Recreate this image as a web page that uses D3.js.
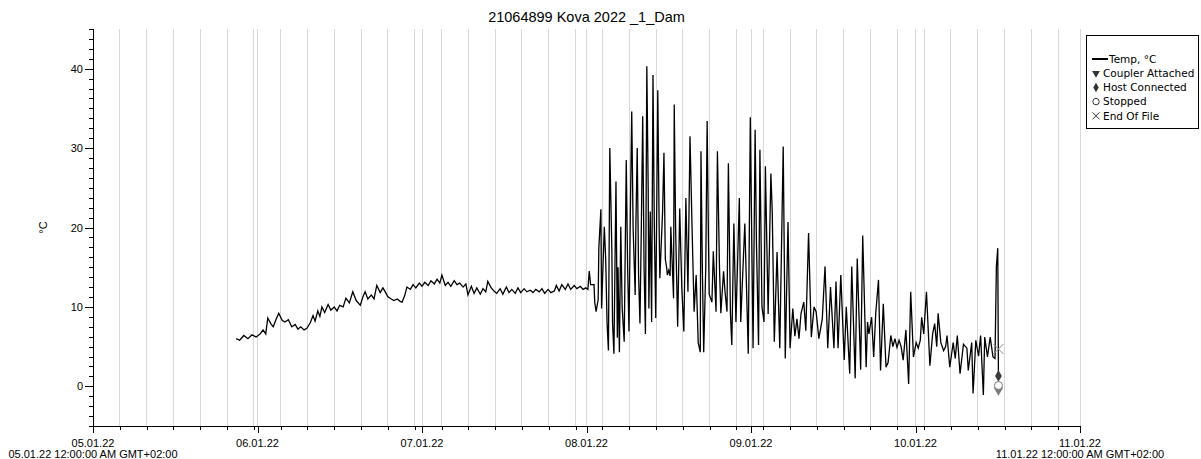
<!DOCTYPE html>
<html><head><meta charset="utf-8">
<script src="https://cdn.jsdelivr.net/npm/d3@7/dist/d3.min.js"></script>
<style>
body{margin:0;background:#fff}
svg text{font-family:"Liberation Sans",Arial,sans-serif;fill:#000}
</style>
</head><body>
<svg id="chart" width="1201" height="459"></svg>
<script>
const chartTitle = "21064899 Kova 2022 _1_Dam";
const yAxisLabel = "°C";
const dayLabels = ["05.01.22","06.01.22","07.01.22","08.01.22","09.01.22","10.01.22","11.01.22"];
const edgeLabels = ["05.01.22 12:00:00 AM GMT+02:00","11.01.22 12:00:00 AM GMT+02:00"];
const yMajorTicks = [0,10,20,30,40];
const yDomain = [-5,45];
const xDomainHours = [0,144];
const minorStepHours = 3.9115;
const yMinorStep = 1.25;

// hours since 05.01.22 00:00
const hours = [20.9,21.4,22.0,22.6,23.2,23.8,24.4,24.8,25.2,25.5,26.0,26.3,26.7,27.1,27.6,28.0,28.5,29.0,29.5,29.9,
30.3,30.8,31.2,31.7,32.1,32.4,32.8,33.1,33.4,33.8,34.3,34.7,35.2,35.6,36.0,36.5,36.9,37.4,37.9,38.4,
39.0,39.4,39.7,40.1,40.6,41.0,41.4,41.9,42.3,42.7,43.0,43.5,43.9,44.4,44.8,45.1,45.5,45.8,46.3,46.7,
47.1,47.6,48.0,48.4,48.9,49.3,49.8,50.2,50.6,50.9,51.4,51.8,52.2,52.7,53.1,53.5,54.0,54.4,54.7,55.2,
55.6,56.0,56.5,56.9,57.3,57.6,58.1,58.5,58.9,59.4,59.8,60.3,60.7,61.1,61.6,62.0,62.4,62.9,63.3,63.8,
64.2,64.6,65.1,65.5,65.9,66.4,66.8,67.3,67.6,68.0,68.4,68.9,69.3,69.7,70.2,70.6,71.1,71.5,71.9,72.2,
72.4,72.6,73.1,73.2,73.4,73.7,73.8,74.1,74.2,74.6,74.8,75.0,75.2,75.4,75.7,75.8,76.0,76.3,76.5,76.6,
76.8,77.0,77.2,77.5,77.8,78.0,78.2,78.4,78.6,78.8,79.1,79.2,79.4,79.6,79.8,80.0,80.2,80.4,80.6,80.8,
81.0,81.1,81.3,81.5,81.7,81.9,82.1,82.4,82.6,82.7,83.1,83.3,83.5,83.7,83.8,84.0,84.2,84.3,84.7,84.8,
85.0,85.3,85.6,85.9,86.2,86.5,86.8,87.1,87.4,87.7,88.0,88.3,88.6,88.7,88.9,89.1,89.4,89.6,89.8,89.9,
90.3,90.5,90.9,91.1,91.4,91.6,92.0,92.2,92.5,92.7,93.0,93.2,93.5,93.8,94.3,94.5,95.1,95.6,95.9,96.3,
96.6,96.8,97.1,97.3,97.6,97.9,98.1,98.5,98.9,99.1,99.4,99.8,100.2,100.7,101.0,101.4,101.7,102.1,102.4,102.7,
103.0,103.3,103.7,104.0,104.4,104.8,105.2,105.5,105.9,106.4,106.8,107.2,107.6,108.1,108.4,108.7,109.1,109.6,109.9,110.4,
110.7,111.2,111.5,112.0,112.3,112.8,113.0,113.2,113.6,113.9,114.2,114.6,114.9,115.3,115.7,116.0,116.4,116.7,117.0,117.3,
117.6,117.9,118.2,118.6,119.0,119.3,119.7,120.1,120.4,120.7,120.9,121.2,121.6,122.1,122.5,122.8,123.1,123.3,123.7,124.1,
124.4,124.6,125.0,125.5,125.8,126.1,126.5,127.0,127.5,127.7,128.2,128.4,128.8,129.2,129.5,129.9,130.1,130.5,130.9,131.3,
131.6,131.8,132.0,132.1];

const temps = [6.0,5.8,6.4,6.0,6.5,6.2,6.6,7.1,6.6,8.6,7.8,7.5,8.4,9.2,8.3,8.1,8.4,7.5,7.8,7.2,
7.5,7.1,7.3,8.0,8.9,8.2,9.5,8.8,10.0,9.3,10.3,9.6,10.0,9.5,10.2,10.0,11.1,10.5,11.9,10.8,
10.2,11.3,11.9,11.0,11.5,11.0,12.7,11.8,12.4,11.8,11.3,11.0,10.8,11.0,10.7,10.6,11.5,12.5,12.2,12.8,
12.4,13.0,12.6,13.1,12.7,13.3,12.9,13.5,13.0,14.0,12.7,13.1,12.6,13.3,12.8,13.0,12.5,12.9,11.5,12.6,
11.7,12.4,11.6,12.3,11.9,13.2,12.4,12.0,11.7,12.3,11.6,12.5,11.8,12.2,11.7,12.4,11.8,12.3,11.9,12.1,
11.8,12.2,11.9,12.3,11.7,12.2,11.8,12.0,12.7,12.0,12.8,12.2,12.9,12.2,12.7,12.3,12.6,12.2,12.4,12.2,
14.5,12.8,12.8,10.6,9.4,10.9,17.4,22.3,9.8,20.1,16,8,4.5,30.0,17,8,4.1,25.8,6.1,15,
4.3,20.1,10,5.6,28.5,15,6.9,22,34.6,20,11.5,20,30.0,14,7.9,20,34.0,15,6.6,40.3,
25,9.8,22,8.1,39.2,20,8.6,37.3,20,13.6,22,29.4,16,14.9,14.0,14.6,13.9,20.1,11.1,35.5,
20,7.5,22.4,12.5,6.9,23.7,11.9,31.5,20,9.4,14,5.5,4.3,29.6,15,4.3,15,33.4,18,11.6,
10.6,17.0,9.4,29.6,15,9.2,14.5,12,9.4,28.1,9.1,5.2,20.5,8.1,23.7,8.1,20.5,4.1,33.9,4.8,
32.3,17.8,5.2,29.8,10,8.1,27.7,9.1,26.8,22,5.6,16.9,4.8,30.2,3.5,20.7,4.8,9.8,6.3,8.5,
6.0,9.2,10.6,7.0,19.3,6.2,10.0,9.4,6.0,8.5,15.1,4.8,12.5,4.8,13.2,4.8,14.0,3.3,10.0,1.6,
15.1,1.0,16.1,2.1,19.0,2.4,8.1,6.6,8.7,3.7,9.2,13.4,2.0,10.4,2.4,3.0,6.4,5.0,6.0,4.9,
5.8,5.0,3.3,7.1,0.3,11.9,3.7,5.5,4.8,5.8,8.7,6.6,11.9,2.6,6.6,7.9,5.0,9.2,5.5,4.5,
5.0,6.4,2.4,5.5,3.5,6.4,1.6,5.3,4.8,2.0,5.5,-0.9,5.8,3.8,6.4,-1.1,6.2,3.7,6.2,3.7,
3.5,15.1,17.4,1.3];

const eventNames = ["Coupler Attached","Host Connected","Stopped","End Of File"];
const eventHours = [132.1,132.1,132.1,132.1];
const eventTemps = [-0.5,1.3,0.1,4.7];
const legendLabels = ["Temp, °C","Coupler Attached","Host Connected","Stopped","End Of File"];

const svg = d3.select("#chart");
const M = {left:93, right:1080, top:29, bottom:426};

const x = d3.scaleLinear().domain(xDomainHours).range([M.left, M.right]);
const y = d3.scaleLinear().domain(yDomain).range([M.bottom, M.top]);

const dayHours = d3.range(0, 145, 24);
const minorHours = d3.range(minorStepHours, xDomainHours[1], minorStepHours);

// grid lines
const grid = svg.append("g").attr("stroke","#d8d8d8").attr("stroke-width",1).attr("shape-rendering","crispEdges");
minorHours.concat(dayHours.slice(1)).forEach(h=>{
  grid.append("line").attr("x1",x(h)).attr("x2",x(h)).attr("y1",M.top).attr("y2",M.bottom);
});

// data line
const line = d3.line().x((d,i)=>x(hours[i])).y((d,i)=>y(temps[i]));
svg.append("path").datum(temps).attr("d",line).attr("fill","none")
  .attr("stroke","#000").attr("stroke-width",1.3).attr("stroke-linejoin","miter");

// x axis
const xAxisMajor = d3.axisBottom(x).tickValues(dayHours).tickSize(7).tickFormat("");
const xAxisMinor = d3.axisBottom(x).tickValues(minorHours).tickSize(4).tickFormat("");
const gx = svg.append("g").attr("transform",`translate(0,${M.bottom})`);
gx.call(xAxisMinor);
gx.append("g").call(xAxisMajor);
gx.selectAll("path,line").attr("stroke","#000").attr("shape-rendering","crispEdges");
gx.selectAll(".domain").remove();
svg.append("line").attr("x1",M.left).attr("x2",M.right).attr("y1",M.bottom).attr("y2",M.bottom)
  .attr("stroke","#000").attr("shape-rendering","crispEdges");

svg.append("g").selectAll("text").data(dayHours).join("text")
  .attr("x",d=>x(d)).attr("y",M.bottom+21).attr("text-anchor","middle")
  .attr("font-size","11px").text((d,i)=>dayLabels[i]);
svg.append("g").selectAll("text").data([xDomainHours[0], xDomainHours[1]]).join("text")
  .attr("x",d=>x(d)).attr("y",M.bottom+32).attr("text-anchor","middle")
  .attr("font-size","11px").text((d,i)=>edgeLabels[i]);

// y axis
const yMinor = d3.range(yDomain[0], yDomain[1]+0.001, yMinorStep);
const gy = svg.append("g").attr("transform",`translate(${M.left},0)`);
gy.call(d3.axisLeft(y).tickValues(yMinor).tickSize(4).tickFormat(""));
gy.append("g").call(d3.axisLeft(y).tickValues(yMajorTicks).tickSize(8).tickPadding(2).tickFormat(d3.format("d")));
gy.selectAll(".domain").remove();
gy.selectAll("line").attr("stroke","#000").attr("shape-rendering","crispEdges");
gy.selectAll("text").attr("font-size","11px").attr("font-family","Liberation Sans, Arial, sans-serif").attr("fill","#000");
svg.append("line").attr("x1",M.left).attr("x2",M.left).attr("y1",M.top).attr("y2",M.bottom)
  .attr("stroke","#000").attr("shape-rendering","crispEdges");

// y label
svg.append("text").attr("transform",`translate(47,${(M.top+M.bottom)/2}) rotate(-90)`)
  .attr("text-anchor","middle").attr("font-size","11px").text(yAxisLabel);

// title
svg.append("text").attr("x",(M.left+M.right)/2).attr("y",22).attr("text-anchor","middle")
  .attr("font-size","14.5px").text(chartTitle);

// event markers
const sym = {
  "Coupler Attached": g=>g.append("path").attr("d",d3.symbol(d3.symbolTriangle,40)()).attr("transform","rotate(180)").attr("fill","#7a7a7a"),
  "Host Connected": g=>g.append("path").attr("d",d3.symbol(d3.symbolDiamond,40)()).attr("fill","#3c3c3c"),
  "Stopped": g=>g.append("circle").attr("r",4).attr("fill","#fff").attr("stroke","#7a7a7a").attr("stroke-width",1),
  "End Of File": g=>g.append("path").attr("d","M-5,-5L5,5M-5,5L5,-5").attr("stroke","#8a8a8a").attr("stroke-width",1).attr("fill","none")
};
eventNames.forEach((n,i)=>{
  const g = svg.append("g").attr("transform",`translate(${x(eventHours[i])},${y(eventTemps[i])})`);
  sym[n](g);
});

// legend
const lg = svg.append("g");
lg.append("rect").attr("x",1086.5).attr("y",35.5).attr("width",112).attr("height",93)
  .attr("fill","#fff").attr("stroke","#000").attr("stroke-width",1);
const legSym = {
  "Coupler Attached": g=>g.append("path").attr("d",d3.symbol(d3.symbolTriangle,26)()).attr("transform","rotate(180)").attr("fill","#333"),
  "Host Connected": g=>g.append("path").attr("d",d3.symbol(d3.symbolDiamond,26)()).attr("fill","#333"),
  "Stopped": g=>g.append("circle").attr("r",3.2).attr("fill","#fff").attr("stroke","#333"),
  "End Of File": g=>g.append("path").attr("d","M-3.5,-3.5L3.5,3.5M-3.5,3.5L3.5,-3.5").attr("stroke","#333").attr("fill","none")
};
legendLabels.forEach((lab,i)=>{
  const cy = 59 + i*14.2;
  if(i===0){
    lg.append("line").attr("x1",1092).attr("x2",1108).attr("y1",cy).attr("y2",cy).attr("stroke","#000").attr("stroke-width",2);
    lg.append("text").attr("x",1109).attr("y",cy+3.8).attr("font-size","10.5px").style("font-family","'DejaVu Sans',sans-serif").text(lab);
  } else {
    const g = lg.append("g").attr("transform",`translate(1096,${cy})`);
    legSym[lab](g);
    lg.append("text").attr("x",1103).attr("y",cy+3.8).attr("font-size","10.5px").style("font-family","'DejaVu Sans',sans-serif").text(lab);
  }
});
</script>
</body></html>
